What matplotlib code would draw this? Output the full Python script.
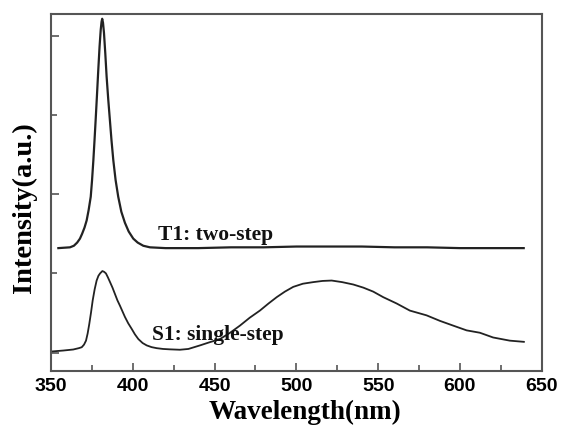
import matplotlib
matplotlib.use("Agg")
import matplotlib.pyplot as plt
from matplotlib.ticker import MultipleLocator

# T1: two-step (wavelength nm, intensity a.u.)
t1_wl = [354.5, 358.0, 361.6, 364.0, 366.0, 367.7, 369.0, 370.5, 371.8, 373.0, 374.3, 375.1,
         375.9, 376.6, 377.3, 378.1, 378.9, 379.7, 380.4, 380.9, 381.3, 381.8, 382.4, 383.2,
         384.0, 385.0, 386.0, 387.0, 388.1, 389.5, 391.1, 393.0, 395.2, 397.5, 400.3, 403.0,
         406.4, 410.5, 420, 440, 460, 480, 500, 520, 540, 560, 580, 600, 620, 639]
t1_int = [1.32, 1.325, 1.33, 1.35, 1.39, 1.44, 1.50, 1.58, 1.67, 1.80, 1.97, 2.18,
          2.43, 2.68, 2.94, 3.25, 3.57, 3.87, 4.08, 4.18, 4.22, 4.17, 4.04, 3.78,
          3.49, 3.20, 2.94, 2.68, 2.43, 2.18, 1.97, 1.78, 1.64, 1.53, 1.44, 1.39,
          1.35, 1.33, 1.32, 1.32, 1.33, 1.33, 1.34, 1.34, 1.34, 1.33, 1.33, 1.32, 1.32, 1.32]

# S1: single-step
s1_wl = [350.4, 357.5, 363.6, 367.0, 368.8, 370.2, 371.4, 372.4, 373.4, 374.5, 375.5, 376.7,
         377.9, 379.0, 380.0, 381.4, 382.5, 383.6, 384.8, 386.1, 387.6, 389.1, 390.6, 392.2,
         393.7, 395.2, 397.2, 399.3, 401.3, 403.4, 406.0, 408.5, 411.5, 414.6, 418.5, 422.7,
         428.8, 434.0, 441.1, 447.0, 453.3, 459.5, 465.5, 471.5, 477.7, 483.0, 488.0, 493.0,
         498.1, 504.0, 510.3, 516.0, 521.6, 528.0, 534.8, 541.0, 547.0, 553.1, 561.3, 569.4,
         579.6, 587.8, 595.9, 604.1, 612.2, 620.3, 630.5, 639.1]
s1_int = [0.013, 0.025, 0.038, 0.055, 0.067, 0.10, 0.15, 0.24, 0.36, 0.51, 0.66, 0.80,
          0.91, 0.97, 1.00, 1.03, 1.02, 1.00, 0.95, 0.89, 0.82, 0.74, 0.66, 0.59,
          0.52, 0.45, 0.37, 0.30, 0.23, 0.17, 0.12, 0.09, 0.068, 0.055, 0.045, 0.04,
          0.035, 0.045, 0.09, 0.13, 0.17, 0.25, 0.34, 0.44, 0.53, 0.62, 0.70, 0.77,
          0.83, 0.87, 0.89, 0.905, 0.91, 0.89, 0.86, 0.82, 0.77, 0.70, 0.62, 0.53,
          0.47, 0.40, 0.34, 0.28, 0.25, 0.19, 0.15, 0.135]

labels = ["T1: two-step", "S1: single-step"]
label_pos = [(415.5, 1.42), (411.5, 0.16)]

fig = plt.figure(figsize=(5.61, 4.25), dpi=100)
ax = fig.add_axes([0.0909, 0.1259, 0.8747, 0.8411])

line_color = "#222222"
ax.plot(t1_wl, t1_int, color=line_color, lw=1.6, solid_joinstyle="round")
ax.plot(s1_wl, s1_int, color=line_color, lw=1.3, solid_joinstyle="round")

for txt, (x, y) in zip(labels, label_pos):
    ax.text(x, y, txt, fontsize=15.5, fontweight="bold", family="Liberation Serif",
            ha="left", va="baseline", color="#111111")

ax.set_xlim(350, 650)
ax.set_ylim(-0.24, 4.28)
ax.xaxis.set_major_locator(MultipleLocator(50))
ax.xaxis.set_minor_locator(MultipleLocator(25))
ax.yaxis.set_major_locator(MultipleLocator(2))
ax.yaxis.set_minor_locator(MultipleLocator(1))
ax.tick_params(which="both", direction="in", color="#555555", width=1.2)
ax.tick_params(which="major", length=6)
ax.tick_params(which="minor", length=4)
ax.tick_params(axis="x", pad=5, labelsize=14)
ax.tick_params(axis="y", labelleft=False)
for lab in ax.get_xticklabels():
    lab.set_family("Liberation Sans")
    lab.set_fontweight("bold")
for sp in ax.spines.values():
    sp.set_color("#555555")
    sp.set_linewidth(1.5)

ax.set_xlabel("Wavelength(nm)", fontsize=19.5, fontweight="bold", family="Liberation Serif")
ax.xaxis.set_label_coords(0.518, -0.078)
ax.set_ylabel("Intensity(a.u.)", fontsize=20.5, fontweight="bold", family="Liberation Serif")
ax.yaxis.set_label_coords(-0.028, 0.459)

fig.savefig("out.png", dpi=100)
